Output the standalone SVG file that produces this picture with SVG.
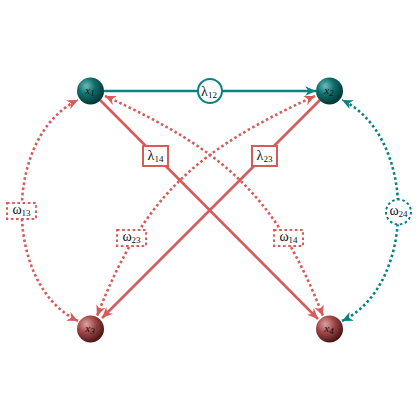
<svg xmlns="http://www.w3.org/2000/svg" width="420" height="420" viewBox="0 0 420 420">
<style>
.red{stroke:#d65b5b;fill:none}
.teal{stroke:#0b8281;fill:none}
.solid{stroke-width:2.6}
.dot{stroke-width:2.6;stroke-dasharray:2.6 2.6}
.box{fill:#fff;stroke-width:2}
.lbl{font-family:"Liberation Serif","DejaVu Serif",serif;font-size:14px;fill:#111;text-anchor:middle}
.sub{font-size:9px}
.nl{font-family:"Liberation Serif","DejaVu Serif",serif;font-style:italic;font-size:11px;fill:#111;text-anchor:middle}
</style>
<defs>
<radialGradient id="gt" cx="35%" cy="32%" r="70%">
<stop offset="0" stop-color="#6cbcb9"/>
<stop offset="0.45" stop-color="#0f6f6d"/>
<stop offset="1" stop-color="#023434"/>
</radialGradient>
<radialGradient id="gr" cx="35%" cy="32%" r="70%">
<stop offset="0" stop-color="#e0a3a3"/>
<stop offset="0.45" stop-color="#a24a4a"/>
<stop offset="1" stop-color="#4a1414"/>
</radialGradient>
<marker id="ar" markerUnits="userSpaceOnUse" markerWidth="14" markerHeight="14" viewBox="-11 -6 13 12" refX="0" refY="0" orient="auto-start-reverse">
<path d="M0,0 L-10,-4.5 L-7,0 L-10,4.5 z" fill="#d65b5b"/>
</marker>
<marker id="at" markerUnits="userSpaceOnUse" markerWidth="14" markerHeight="14" viewBox="-11 -6 13 12" refX="0" refY="0" orient="auto-start-reverse">
<path d="M0,0 L-10,-4.5 L-7,0 L-10,4.5 z" fill="#0b8281"/>
</marker>
</defs>
<g id="connectors">
<path class="teal solid" d="M104,91 L316,91" marker-end="url(#at)"/>
<path class="red solid" d="M100,100 L318,319" marker-end="url(#ar)"/>
<path class="red solid" d="M320,100 L102,318" marker-end="url(#ar)"/>
<path class="red dot" d="M78,321 C3,285 3,136 78,100" marker-start="url(#ar)" marker-end="url(#ar)"/>
<path class="teal dot" d="M342,321 C417,285 417,136 342,100" marker-start="url(#at)" marker-end="url(#at)"/>
<path class="red dot" d="M105,96 C223,150 276,195 323,316" marker-start="url(#ar)" marker-end="url(#ar)"/>
<path class="red dot" d="M315,96 C197,150 144,195 97,316" marker-start="url(#ar)" marker-end="url(#ar)"/>
<g id="l12"><circle class="teal box" cx="210" cy="91" r="12"/><text class="lbl" x="209" y="96">λ<tspan class="sub" dy="2">12</tspan></text></g>
<g id="l14"><rect class="red box" x="143" y="146" width="25" height="20"/><text class="lbl" x="155.5" y="160">λ<tspan class="sub" dy="2">14</tspan></text></g>
<g id="l23"><rect class="red box" x="252" y="146" width="25" height="20"/><text class="lbl" x="264.5" y="160">λ<tspan class="sub" dy="2">23</tspan></text></g>
<g id="w13"><rect class="red box dot" style="stroke-width:2" x="7" y="203" width="29" height="16"/><text class="lbl" x="21.5" y="214">ω<tspan class="sub" dy="2">13</tspan></text></g>
<g id="w23"><rect class="red box dot" style="stroke-width:2" x="117" y="230" width="29" height="16"/><text class="lbl" x="131.5" y="241">ω<tspan class="sub" dy="2">23</tspan></text></g>
<g id="w14"><rect class="red box dot" style="stroke-width:2" x="274" y="230" width="29" height="16"/><text class="lbl" x="288.5" y="241">ω<tspan class="sub" dy="2">14</tspan></text></g>
<g id="w24"><circle class="teal box dot" style="stroke-width:2" cx="398.5" cy="212" r="12.5"/><text class="lbl" x="398.5" y="215">ω<tspan class="sub" dy="2">24</tspan></text></g>
</g>
<g id="x1"><circle cx="90.5" cy="91" r="13.5" fill="url(#gt)"/><text class="nl" x="90" y="94">x<tspan class="sub" dy="2">1</tspan></text></g>
<g id="x2"><circle cx="329.5" cy="91" r="13.5" fill="url(#gt)"/><text class="nl" x="329" y="94">x<tspan class="sub" dy="2">2</tspan></text></g>
<g id="x3"><circle cx="90.5" cy="329" r="13.5" fill="url(#gr)"/><text class="nl" x="90" y="332">x<tspan class="sub" dy="2">3</tspan></text></g>
<g id="x4"><circle cx="329.5" cy="329" r="13.5" fill="url(#gr)"/><text class="nl" x="329" y="332">x<tspan class="sub" dy="2">4</tspan></text></g>
</svg>
